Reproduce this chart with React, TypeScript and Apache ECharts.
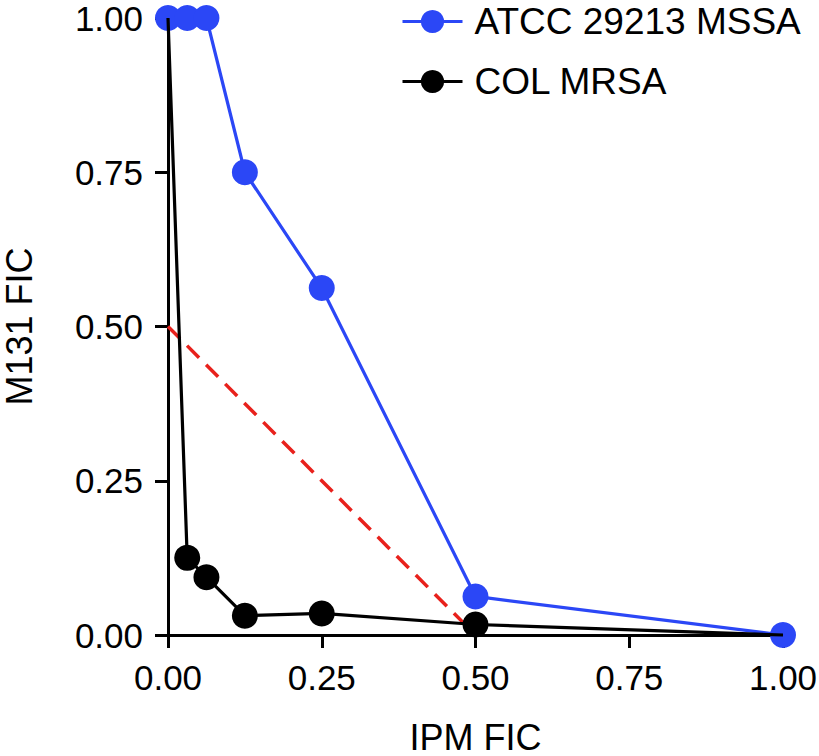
import React, { useEffect, useRef } from "react";
import * as echarts from "echarts";

const xTicks = [0, 0.25, 0.5, 0.75, 1];
const mssaX = [0, 0.03125, 0.0625, 0.125, 0.25, 0.5, 1];
const mssaY = [1, 1, 1, 0.75, 0.5625, 0.0625, 0];
const mrsaX = [0, 0.03125, 0.0625, 0.125, 0.25, 0.5, 1];
const mrsaY = [1, 0.125, 0.09375, 0.03125, 0.035, 0.017, 0];
const additivityX = [0, 0.5];
const additivityY = [0.5, 0];
const seriesNames = ["ATCC 29213 MSSA", "COL MRSA"];

const FONT = "'Liberation Sans', Arial, Helvetica, sans-serif";
const BLUE = "#2b47f6";
const RED = "#e8211c";

export default function App() {
  const ref = useRef<HTMLDivElement>(null);
  useEffect(() => {
    if (!ref.current) return;
    const chart = echarts.init(ref.current, null, { renderer: "svg" });
    const mssa = mssaX.map((x, i) => [x, mssaY[i]]);
    const mrsa = mrsaX.map((x, i) => {
      const endpoint = i === 0 || i === mrsaX.length - 1;
      return endpoint ? { value: [x, mrsaY[i]], symbolSize: 0 } : { value: [x, mrsaY[i]] };
    });
    const add = additivityX.map((x, i) => [x, additivityY[i]]);
    chart.setOption({
      animation: false,
      textStyle: { fontFamily: FONT },
      grid: {
        left: 168,
        right: 36,
        top: 18,
        bottom: 121,
        containLabel: false,
        outerBoundsMode: "none",
      },
      legend: {
        orient: "vertical",
        left: 396,
        top: 0,
        padding: [3, 5, 5, 5],
        itemWidth: 60,
        itemHeight: 29,
        itemGap: 23,
        data: seriesNames,
        lineStyle: { width: 3 },
        textStyle: {
          fontSize: 37,
          lineHeight: 36,
          color: "#000",
          fontFamily: FONT,
          padding: [0, 0, 0, 7],
        },
      },
      xAxis: {
        type: "value",
        min: 0,
        max: 1,
        interval: 0.25,
        name: "IPM FIC",
        nameLocation: "middle",
        nameGap: 84,
        nameTextStyle: { fontSize: 36, color: "#000", fontFamily: FONT },
        axisLine: { show: true, lineStyle: { color: "#000", width: 3 } },
        axisTick: { show: true, length: 13, lineStyle: { color: "#000", width: 3 } },
        axisLabel: {
          fontSize: 35,
          color: "#000",
          margin: 25,
          fontFamily: FONT,
          formatter: (v: number) => v.toFixed(2),
        },
        splitLine: { show: false },
      },
      yAxis: {
        type: "value",
        min: 0,
        max: 1,
        interval: 0.25,
        name: "M131 FIC",
        nameLocation: "middle",
        nameGap: 131,
        nameTextStyle: { fontSize: 36, color: "#000", fontFamily: FONT },
        axisLine: { show: true, lineStyle: { color: "#000", width: 3 } },
        axisTick: { show: true, length: 13, lineStyle: { color: "#000", width: 3 } },
        axisLabel: {
          fontSize: 35,
          color: "#000",
          margin: 25,
          fontFamily: FONT,
          formatter: (v: number) => v.toFixed(2),
        },
        splitLine: { show: false },
      },
      series: [
        {
          name: "additivity",
          type: "line",
          data: add,
          symbol: "none",
          clip: false,
          z: 1,
          lineStyle: { color: RED, width: 3.5, type: [17, 10] },
        },
        {
          name: seriesNames[0],
          type: "line",
          data: mssa,
          symbol: "circle",
          symbolSize: 26,
          clip: false,
          z: 2,
          itemStyle: { color: BLUE },
          lineStyle: { color: BLUE, width: 3.2 },
        },
        {
          name: seriesNames[1],
          type: "line",
          data: mrsa,
          symbol: "circle",
          symbolSize: 26,
          clip: false,
          z: 3,
          itemStyle: { color: "#000" },
          lineStyle: { color: "#000", width: 3.2 },
        },
      ],
    });
    return () => chart.dispose();
  }, []);
  return (
    <div
      ref={ref}
      style={{ position: "absolute", left: 0, top: 0, width: 819, height: 756 }}
    />
  );
}
